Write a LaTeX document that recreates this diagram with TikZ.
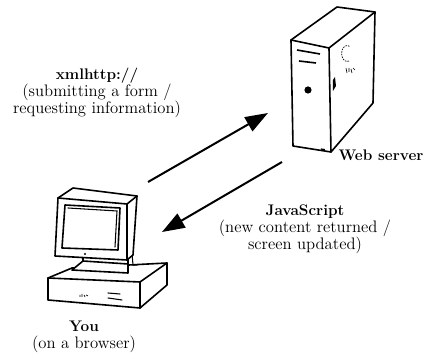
\documentclass[tikz,border=0pt]{standalone}
\usetikzlibrary{arrows.meta}

\newcommand{\heading}[1]{{\fontsize{11.5}{12.8}\selectfont\bfseries #1}}

\tikzset{
  outline/.style={line width=1.2pt, line join=round, line cap=round},
  detail/.style={line width=0.8pt, line cap=round},
  flow/.style={line width=1.5pt, -{Triangle[length=17pt,width=12pt]}},
  caption/.style={align=center, inner sep=0pt, font=\fontsize{12.5}{12.6}\selectfont},
}

\begin{document}
\begin{tikzpicture}[x=0.75pt,y=-0.75pt]
\useasboundingbox (0,0) rectangle (430,359);

% web server tower
\draw[outline, fill=white] (291,40) -- (337,7) -- (375,12) -- (373,103) -- (331,152) -- (293,146) -- cycle;
\draw[outline] (291,40) -- (329,48) -- (375,12);
\draw[outline] (329,48) -- (331,152);
\draw[line width=1.2pt] (297,50) -- (320,54);
\draw[line width=1.2pt] (299,61) -- (316,63);
\fill (308,90) circle (3.6);
\fill (321,148.4) -- (325,149) -- (325,150.3) -- (321,149.7) -- cycle;
\fill (333,80) -- (335,77) -- (336,86) -- (333,91) -- cycle;
\draw[line width=0.5pt, dash pattern=on 1.2pt off 0.8pt] (349,61) arc (70:300:5.5 and 8);
\draw[line width=0.5pt] (346,68) -- (347,73) (349,68) -- (349,72) (351,69) -- (352,73) (353,68) -- (355,70);
\coordinate (server) at (333,80);

% desktop computer: base unit
\draw[outline, fill=white] (48,278) -- (72,268) -- (167,263) -- (167,285) -- (140,308) -- (48,300) -- cycle;
\draw[outline] (48,278) -- (140,282) -- (167,263);
\draw[outline] (140,282) -- (140,308);
\draw[detail] (108,293) -- (120,294);
\draw[detail] (108,298) -- (122,300);
\draw[line width=0.5pt] (80,295) -- (80,297) (82,294) -- (82,297) (84,295) -- (85,297) (86,295) -- (88,296);
% stand
\draw[outline, fill=white] (72,270) -- (83,261) -- (128,264) -- (128,273) -- cycle;
\draw[outline] (83,253) -- (83,261);
\draw[outline] (128,253) -- (128,268);
\draw[detail] (132,253) -- (133,265) -- (137,265);
% monitor
\draw[outline, fill=white] (58,198) -- (73,188) -- (137,196) -- (133,255) -- (127,260) -- (55,256) -- cycle;
\draw[outline] (58,198) -- (127,204) -- (137,196);
\draw[outline] (127,204) -- (127,260);
\draw[outline] (65,205) -- (120,208) -- (118,250) -- (62,248) -- cycle;
\draw[detail] (68,208) -- (117,211) -- (115,247);
\fill (85,254) circle (1.1);
\coordinate (computer) at (92,250);

% requests and responses
\coordinate (request tail) at (148,182);
\coordinate (request tip) at (268,113);
\coordinate (reply tail) at (282,162);
\coordinate (reply tip) at (162,232);
\draw[flow] (request tail) -- (request tip);
\draw[flow] (reply tail) -- (reply tip);

% labels
\node[caption] (server label) at (381,155) {\heading{Web server}};
\node[caption] (you label) at (84,337) {\heading{You}\\(on a browser)};
\node[caption] (request label) at (97,93) {\heading{xmlhttp://}\\(submitting a form /\\requesting information)};
\node[caption] (reply label) at (305,229) {\heading{JavaScript}\\(new content returned /\\screen updated)};
\end{tikzpicture}
\end{document}
